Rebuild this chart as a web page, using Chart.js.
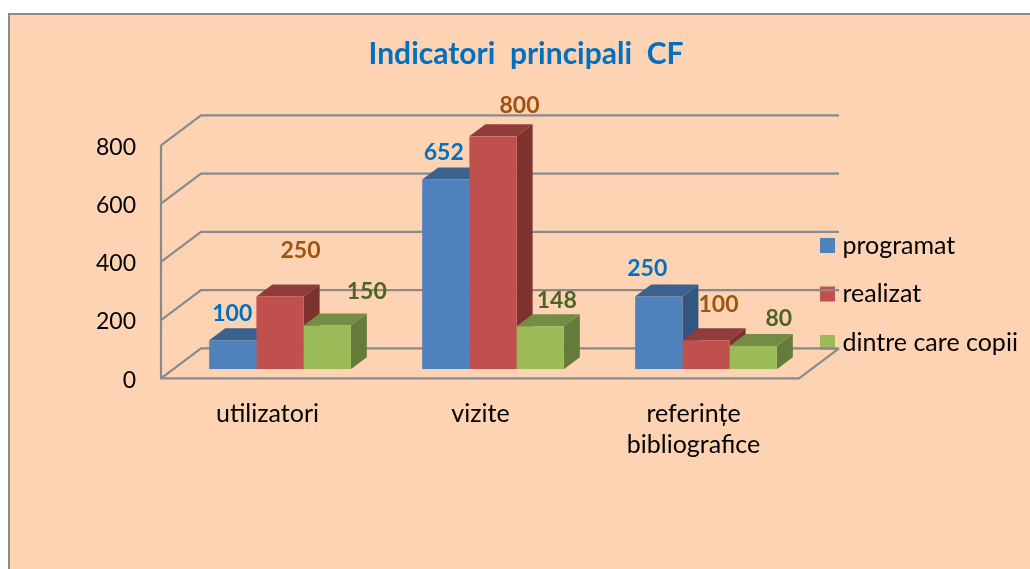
<!DOCTYPE html>
<html>
<head>
<meta charset="utf-8">
<script src="https://cdn.jsdelivr.net/npm/chart.js@4"></script>
<style>
html,body{margin:0;padding:0;background:#fff;overflow:hidden;width:1030px;height:569px}
#panel{position:absolute;left:7.5px;top:12.5px;width:1023px;height:557px;box-sizing:border-box;background:#FDD3B3;border-left:2px solid #8a8a8a;border-top:2px solid #8a8a8a}
#c{position:absolute;left:22px;top:13px}
</style>
</head>
<body>
<div id="panel"></div>
<canvas id="c" width="1008" height="556"></canvas>
<script>
const categories = ['utilizatori', 'vizite', ['referințe', 'bibliografice']];
const programat = [100, 652, 250];
const realizat = [250, 800, 100];
const copii = [150, 148, 80];
const seriesNames = ['programat', 'realizat', 'dintre care copii'];
const yTicks = [0, 200, 400, 600, 800];

const FONT = 'Lato, Carlito, sans-serif';
const front = ['#4F81BD', '#C0504D', '#9BBB59'];
const topFace = ['#3B618E', '#8F3C3A', '#748C43'];
const sideFace = ['#335680', '#7D3230', '#657B3A'];
const labelColor = ['#0070C0', '#A0520F', '#4F6228'];
// label placement relative to each bar's top centre [dx, dy]
const labelShift = [
  [[-0.5,-26.5],[-2,-26.5],[-11.5,-27.5]],
  [[20.5,-45.5],[26.5,-30.5],[12.5,-35.5]],
  [[39.5,-34.5],[16.5,-25.5],[25.5,-27.5]]
];
const DEPTH = {x: 16, y: 12};
const WALL = {frontX: -12.5, frontY: 9, backX: 27.5, backY: -21, rightFront: -13.5, rightBack: 26.5};

const wallsAndFaces = {
  id: 'wallsAndFaces',
  beforeLayout(chart) {
    const lg = chart.legend;
    if (lg && !lg._wrapped) {
      const f = lg.fit;
      lg.fit = function () { f.call(this); this.width = 217.5; };
      lg._wrapped = true;
    }
  },
  afterLayout(chart) {
    const lg = chart.legend;
    lg.left = 779.5; lg.right = 1008; lg.top = 196.5; lg.bottom = 556;
  },
  beforeDatasetsDraw(chart) {
    const {ctx, chartArea: a, scales: {y}} = chart;
    ctx.save();
    ctx.strokeStyle = '#8a8a8a';
    ctx.lineWidth = 2.2;
    ctx.beginPath();
    const x0 = a.left + WALL.frontX, x1 = a.left + WALL.backX, x2 = a.right + WALL.rightBack, x3 = a.right + WALL.rightFront;
    yTicks.forEach(v => {
      const p = y.getPixelForValue(v);
      ctx.moveTo(x0, p + WALL.frontY);
      ctx.lineTo(x1, p + WALL.backY);
      ctx.lineTo(x2, p + WALL.backY);
    });
    const top = y.getPixelForValue(800), base = y.getPixelForValue(0);
    ctx.moveTo(x0, top + WALL.frontY);
    ctx.lineTo(x0, base + WALL.frontY);
    ctx.lineTo(x3, base + WALL.frontY);
    ctx.lineTo(x2, base + WALL.backY);
    ctx.stroke();
    // side and top faces of the bars, series by series
    chart.data.datasets.forEach((d, i) => {
      chart.getDatasetMeta(i).data.forEach(b => {
        const l = b.x - b.width / 2, r = b.x + b.width / 2, t = b.y, bt = b.base;
        ctx.fillStyle = sideFace[i];
        ctx.beginPath();
        ctx.moveTo(r, t); ctx.lineTo(r + DEPTH.x, t - DEPTH.y);
        ctx.lineTo(r + DEPTH.x, bt - DEPTH.y); ctx.lineTo(r, bt);
        ctx.closePath(); ctx.fill();
        ctx.fillStyle = topFace[i];
        ctx.beginPath();
        ctx.moveTo(l, t); ctx.lineTo(r, t);
        ctx.lineTo(r + DEPTH.x, t - DEPTH.y); ctx.lineTo(l + DEPTH.x, t - DEPTH.y);
        ctx.closePath(); ctx.fill();
      });
    });
    ctx.restore();
  },
  afterDatasetsDraw(chart) {
    const {ctx} = chart;
    ctx.save();
    ctx.font = 'bold 23px ' + FONT;
    ctx.textAlign = 'center';
    ctx.textBaseline = 'middle';
    chart.data.datasets.forEach((d, i) => {
      chart.getDatasetMeta(i).data.forEach((b, j) => {
        ctx.fillStyle = labelColor[i];
        ctx.fillText(String(d.data[j]), b.x + labelShift[i][j][0], b.y + labelShift[i][j][1]);
      });
    });
    ctx.restore();
  }
};

new Chart(document.getElementById('c'), {
  type: 'bar',
  data: {
    labels: categories,
    datasets: [
      {label: seriesNames[0], data: programat, backgroundColor: front[0]},
      {label: seriesNames[1], data: realizat, backgroundColor: front[1]},
      {label: seriesNames[2], data: copii, backgroundColor: front[2]}
    ]
  },
  options: {
    responsive: false,
    animation: false,
    datasets: {bar: {barPercentage: 1, categoryPercentage: 0.665, borderWidth: 0}},
    layout: {padding: 0},
    plugins: {
      tooltip: {enabled: false},
      title: {
        display: true,
        text: 'Indicatori  principali  CF',
        color: '#0070C0',
        font: {family: FONT, size: 30, weight: 'bold', lineHeight: 1.2},
        padding: {top: 23, bottom: 64.3}
      },
      legend: {
        display: true,
        position: 'right',
        align: 'start',
        labels: {
          color: '#000',
          font: {family: FONT, size: 25},
          boxWidth: 5,
          boxHeight: 5,
          padding: 23.5,
          generateLabels: chart => chart.data.datasets.map((d, i) => ({
            text: d.label, fillStyle: d.backgroundColor, strokeStyle: d.backgroundColor,
            lineWidth: 10, datasetIndex: i, hidden: false, fontColor: '#000'
          }))
        }
      }
    },
    scales: {
      x: {
        grid: {display: false, drawTicks: false},
        border: {display: false},
        afterFit: s => { s.height = 199.7; },
        ticks: {
          color: '#000', font: {family: FONT, size: 25, lineHeight: 1.24},
          padding: 29, labelOffset: -12.5, maxRotation: 0, autoSkip: false
        }
      },
      y: {
        min: 0, max: 800,
        grid: {display: false, drawTicks: false},
        border: {display: false},
        afterFit: s => { s.width = 151.5; },
        afterBuildTicks: s => { s.ticks = yTicks.map(v => ({value: v})); },
        ticks: {
          color: '#000', font: {family: FONT, size: 23},
          padding: 37.5, labelOffset: 11
        }
      }
    }
  },
  plugins: [wallsAndFaces]
});
</script>
</body>
</html>
